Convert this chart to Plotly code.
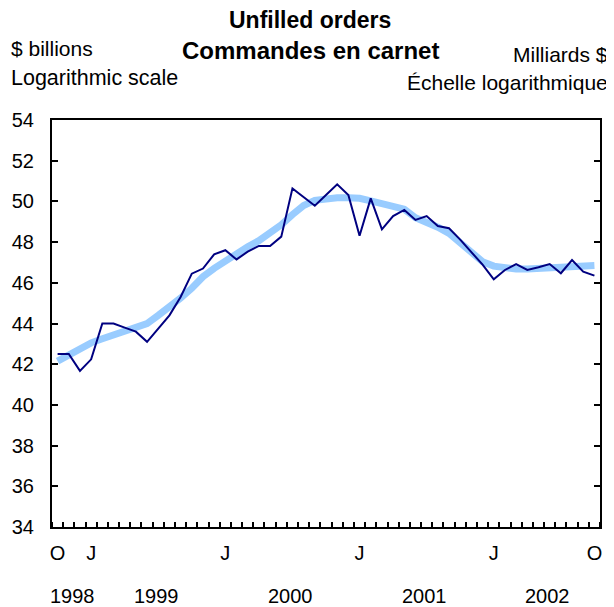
import plotly.graph_objects as go
import pandas as pd

months = pd.period_range("1998-10", "2002-10", freq="M").strftime("%Y-%m").tolist()

unfilled = [42.50, 42.50, 41.67, 42.24, 44.00, 44.00, 43.80, 43.60, 43.10, 43.75,
            44.40, 45.30, 46.45, 46.70, 47.40, 47.60, 47.15, 47.53, 47.81, 47.81,
            48.27, 50.64, 50.23, 49.79, 50.31, 50.84, 50.31, 48.31, 50.15, 48.63,
            49.28, 49.58, 49.09, 49.28, 48.79, 48.68, 48.12, 47.51, 46.89, 46.17,
            46.63, 46.92, 46.63, 46.76, 46.92, 46.47, 47.12, 46.55, 46.35]

trend = [42.15, 42.45, 42.75, 43.05, 43.25, 43.43, 43.60, 43.78, 44.00, 44.40,
         44.80, 45.25, 45.73, 46.30, 46.71, 47.09, 47.45, 47.77, 48.07, 48.43,
         48.85, 49.35, 49.80, 50.05, 50.15, 50.18, 50.18, 50.15, 50.03, 49.90,
         49.80, 49.62, 49.20, 49.00, 48.73, 48.43, 47.94, 47.45, 47.04, 46.82,
         46.72, 46.68, 46.68, 46.70, 46.74, 46.78, 46.82, 46.84, 46.85]

month_tick_labels = {"1998-10": "O", "1999-01": "J", "2000-01": "J",
                     "2001-01": "J", "2002-01": "J", "2002-10": "O"}
years = ["1998", "1999", "2000", "2001", "2002"]
y_ticks = list(range(34, 55, 2))

x = list(range(len(months)))
FONT = "Liberation Sans, Arial, sans-serif"

fig = go.Figure()
fig.add_trace(go.Scatter(x=x, y=trend, mode="lines",
                         line=dict(color="#99CCFF", width=7), hoverinfo="skip"))
fig.add_trace(go.Scatter(x=x, y=unfilled, mode="lines",
                         line=dict(color="#000080", width=2)))

tickvals = [months.index(m) for m in month_tick_labels]
ticktext = list(month_tick_labels.values())

# page-pixel helpers (plot area spans 52..600 x 120..527 on the page)
def py(px):
    return (527 - px) / 407

def pxx(px):
    return (px - 52) / 548

annotations = []
for yr in years:
    idx = [i for i, m in enumerate(months) if m.startswith(yr)]
    pos = sum(idx) / len(idx) + 0.3
    annotations.append(dict(x=pos, xref="x", y=py(596), yref="paper",
                            text=yr, showarrow=False, xanchor="center",
                            yanchor="middle", font=dict(size=20)))

annotations += [
    dict(x=pxx(310), xref="paper", y=py(20), yref="paper",
         text="<b>Unfilled orders</b>", showarrow=False, xanchor="center",
         yanchor="middle", font=dict(size=23)),
    dict(x=pxx(310), xref="paper", y=py(50), yref="paper",
         text="<b>Commandes en carnet</b>", showarrow=False, xanchor="center",
         yanchor="middle", font=dict(size=24)),
    dict(x=pxx(8.5), xref="paper", y=py(49), yref="paper",
         text="$ billions", showarrow=False, xanchor="left",
         yanchor="middle", font=dict(size=21)),
    dict(x=pxx(8.5), xref="paper", y=py(78), yref="paper",
         text="Logarithmic scale", showarrow=False, xanchor="left",
         yanchor="middle", font=dict(size=21.5)),
    dict(x=pxx(610), xref="paper", y=py(54), yref="paper",
         text="Milliards $", showarrow=False, xanchor="right",
         yanchor="middle", font=dict(size=21)),
    dict(x=pxx(610), xref="paper", y=py(82), yref="paper",
         text="Échelle logarithmique", showarrow=False, xanchor="right",
         yanchor="middle", font=dict(size=21)),
]

fig.update_layout(
    width=606, height=599,
    margin=dict(l=44, r=14, t=112, b=80, autoexpand=False),
    paper_bgcolor="white", plot_bgcolor="white",
    showlegend=False,
    font=dict(family=FONT, size=20, color="black"),
    annotations=annotations,
    xaxis=dict(range=[-0.5, len(months) - 0.5], tickvals=tickvals, ticktext=ticktext,
               ticks="", showgrid=False, zeroline=False, automargin=False,
               showline=True, linecolor="black", linewidth=2, mirror=True,
               ticklabelstandoff=7,
               minor=dict(tick0=-0.5, dtick=1, ticks="inside", ticklen=5,
                          tickcolor="black", tickwidth=1.5, showgrid=False)),
    yaxis=dict(range=[34, 54], tickvals=y_ticks, ticks="inside", ticklen=6,
               tickwidth=2, tickcolor="black", showgrid=False, zeroline=False,
               automargin=False,
               showline=True, linecolor="black", linewidth=2, mirror="ticks",
               ticklabelstandoff=12),
)

fig.write_html("out.html")
